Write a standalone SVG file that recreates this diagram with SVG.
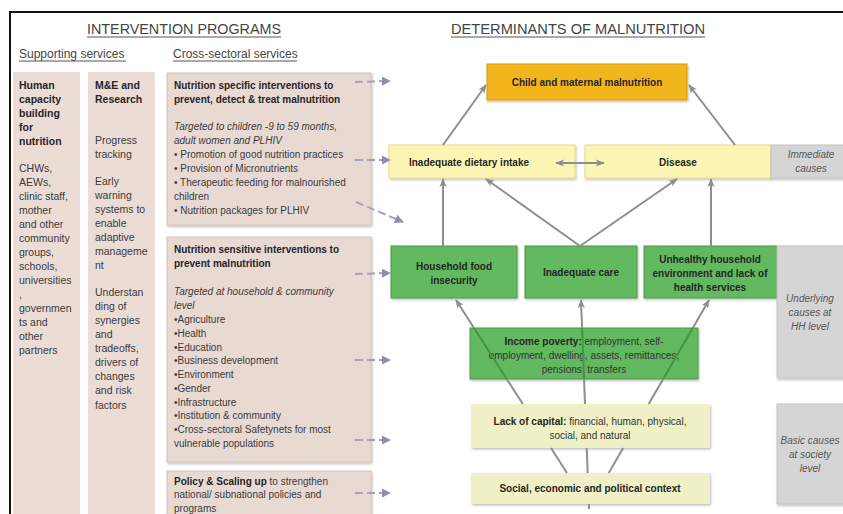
<svg xmlns="http://www.w3.org/2000/svg" width="843" height="514" viewBox="0 0 843 514">
  <defs>
    <style>
      text{font-family:"Liberation Sans",Arial,sans-serif;fill:#3b3b3b}
      .title{font-size:15px;fill:#444}
      .sub{font-size:12px;fill:#444}
      .rule{stroke:#555;stroke-width:1}
      .col{fill:#ecdcd6}
      .prog{fill:#e9d9d3;stroke:#cfc3be;stroke-width:1}
      .ct{font-size:10.5px}
      .bt{font-size:10px}
      .b{font-weight:bold;fill:#262626}
      .i{font-style:italic}
      .nt{font-size:10px;font-weight:bold;fill:#262626;text-anchor:middle}
      .nr{font-size:10px;fill:#333;text-anchor:middle}
      .gt{font-size:10px;font-style:italic;fill:#555;text-anchor:middle}
      .gold{fill:#f2b51c;stroke:#d59c12;stroke-width:1}
      .pale{fill:#fcf5b3;stroke:#e6dc8c;stroke-width:1}
      .green{fill:#62b95e;stroke:#4a9a46;stroke-width:1}
      .olive{fill:#eff0c6}
      .grey{fill:#d5d5d5;stroke:#c4c4c4;stroke-width:1}
      .link{stroke:#8e8e8e;stroke-width:2;fill:none}
      .dash{stroke:#a3a5b4;stroke-width:2;fill:none;stroke-dasharray:8 4}
    </style>
    <marker id="head" viewBox="0 0 10 10" refX="9" refY="5" markerWidth="4.5" markerHeight="4.5" orient="auto-start-reverse">
      <path d="M0,1 L10,5 L0,9 L2.5,5 z" fill="#8e8e8e"/>
    </marker>
    <marker id="dhead" viewBox="0 0 10 10" refX="9" refY="5" markerWidth="4.5" markerHeight="4.5" orient="auto">
      <path d="M0,0 L10,5 L0,10 z" fill="#8b90b2"/>
    </marker>
    <filter id="shadow" x="-10%" y="-10%" width="120%" height="130%">
      <feDropShadow dx="1" dy="1.5" stdDeviation="1" flood-color="#000" flood-opacity="0.25"/>
    </filter>
    <clipPath id="incomeClip"><rect x="470" y="328" width="228" height="51"/></clipPath>
  </defs>

  <rect width="843" height="514" fill="#fff"/>
  <!-- outer frame -->
  <path d="M10,514 V12 H843" fill="none" stroke="#111" stroke-width="2"/>

  <!-- headings -->
  <g id="headings">
    <text class="title" x="87" y="34" textLength="194" lengthAdjust="spacingAndGlyphs">INTERVENTION PROGRAMS</text>
    <line class="rule" x1="87" y1="37" x2="281" y2="37"/>
    <text class="title" x="451" y="34" textLength="254" lengthAdjust="spacingAndGlyphs">DETERMINANTS OF MALNUTRITION</text>
    <line class="rule" x1="451" y1="37" x2="705" y2="37"/>
    <text class="sub" x="19" y="58">Supporting services</text>
    <line class="rule" x1="19" y1="61" x2="126" y2="61"/>
    <text class="sub" x="173" y="58">Cross-sectoral services</text>
    <line class="rule" x1="173" y1="61" x2="297" y2="61"/>
  </g>

  <!-- supporting services columns -->
  <g id="human-capacity">
    <rect class="col" x="13" y="72" width="67" height="450"/>
    <text class="ct" x="19">
      <tspan class="b" x="19" y="89">Human</tspan>
      <tspan class="b" x="19" y="103">capacity</tspan>
      <tspan class="b" x="19" y="117">building</tspan>
      <tspan class="b" x="19" y="131">for</tspan>
      <tspan class="b" x="19" y="145">nutrition</tspan>
      <tspan x="19" y="172">CHWs,</tspan>
      <tspan x="19" y="186">AEWs,</tspan>
      <tspan x="19" y="200">clinic staff,</tspan>
      <tspan x="19" y="214">mother</tspan>
      <tspan x="19" y="228">and other</tspan>
      <tspan x="19" y="242">community</tspan>
      <tspan x="19" y="256">groups,</tspan>
      <tspan x="19" y="270">schools,</tspan>
      <tspan x="19" y="284">universities</tspan>
      <tspan x="19" y="298">,</tspan>
      <tspan x="19" y="312">governmen</tspan>
      <tspan x="19" y="326">ts and</tspan>
      <tspan x="19" y="340">other</tspan>
      <tspan x="19" y="354">partners</tspan>
    </text>
  </g>

  <g id="me-research">
    <rect class="col" x="88" y="72" width="67" height="450"/>
    <text class="ct" x="95">
      <tspan class="b" x="95" y="89">M&amp;E and</tspan>
      <tspan class="b" x="95" y="103">Research</tspan>
      <tspan x="95" y="144">Progress</tspan>
      <tspan x="95" y="158">tracking</tspan>
      <tspan x="95" y="185">Early</tspan>
      <tspan x="95" y="199">warning</tspan>
      <tspan x="95" y="213">systems to</tspan>
      <tspan x="95" y="227">enable</tspan>
      <tspan x="95" y="241">adaptive</tspan>
      <tspan x="95" y="255">manageme</tspan>
      <tspan x="95" y="269">nt</tspan>
      <tspan x="95" y="296">Understan</tspan>
      <tspan x="95" y="310">ding of</tspan>
      <tspan x="95" y="324">synergies</tspan>
      <tspan x="95" y="338">and</tspan>
      <tspan x="95" y="352">tradeoffs,</tspan>
      <tspan x="95" y="366">drivers of</tspan>
      <tspan x="95" y="380">changes</tspan>
      <tspan x="95" y="394">and risk</tspan>
      <tspan x="95" y="409">factors</tspan>
    </text>
  </g>

  <!-- cross-sectoral programmes -->
  <g id="nutrition-specific">
    <rect class="prog" x="167" y="73" width="204" height="152" filter="url(#shadow)"/>
    <text class="bt" x="174">
      <tspan class="b" x="174" y="89">Nutrition specific interventions to</tspan>
      <tspan class="b" x="174" y="103">prevent, detect &amp; treat malnutrition</tspan>
      <tspan class="i" x="174" y="130">Targeted to children -9 to 59 months,</tspan>
      <tspan class="i" x="174" y="144">adult women and PLHIV</tspan>
      <tspan x="174" y="158">• Promotion of good nutrition practices</tspan>
      <tspan x="174" y="172">• Provision of Micronutrients</tspan>
      <tspan x="174" y="186">• Therapeutic feeding for malnourished</tspan>
      <tspan x="174" y="200">children</tspan>
      <tspan x="174" y="214">• Nutrition packages for PLHIV</tspan>
    </text>
  </g>

  <g id="nutrition-sensitive">
    <rect class="prog" x="167" y="237" width="204" height="225" filter="url(#shadow)"/>
    <text class="bt" x="174">
      <tspan class="b" x="174" y="253">Nutrition sensitive interventions to</tspan>
      <tspan class="b" x="174" y="267">prevent malnutrition</tspan>
      <tspan class="i" x="174" y="295">Targeted at household &amp; community</tspan>
      <tspan class="i" x="174" y="309">level</tspan>
      <tspan x="174" y="323">•Agriculture</tspan>
      <tspan x="174" y="337">•Health</tspan>
      <tspan x="174" y="351">•Education</tspan>
      <tspan x="174" y="364">•Business development</tspan>
      <tspan x="174" y="378">•Environment</tspan>
      <tspan x="174" y="392">•Gender</tspan>
      <tspan x="174" y="406">•Infrastructure</tspan>
      <tspan x="174" y="419">•Institution &amp; community</tspan>
      <tspan x="174" y="433">•Cross-sectoral Safetynets for most</tspan>
      <tspan x="174" y="447">vulnerable populations</tspan>
    </text>
  </g>

  <g id="policy-scaling">
    <rect class="prog" x="167" y="471" width="204" height="50" filter="url(#shadow)"/>
    <text class="bt" x="174">
      <tspan x="174" y="485"><tspan class="b">Policy &amp; Scaling up</tspan> to strengthen</tspan>
      <tspan x="174" y="498">national/ subnational policies and</tspan>
      <tspan x="174" y="512">programs</tspan>
    </text>
  </g>

  <!-- determinants of malnutrition -->
  <g id="child-maternal-malnutrition">
    <rect class="gold" x="487" y="64" width="200" height="36" filter="url(#shadow)"/>
    <text class="nt" x="587" y="86">Child and maternal malnutrition</text>
  </g>
  <g id="inadequate-dietary-intake">
    <rect class="pale" x="389" y="145" width="186" height="33" filter="url(#shadow)"/>
    <text class="nt" x="469" y="166">Inadequate dietary intake</text>
  </g>
  <g id="disease">
    <rect class="pale" x="585" y="145" width="186" height="33" filter="url(#shadow)"/>
    <text class="nt" x="678" y="166">Disease</text>
  </g>
  <g id="immediate-causes">
    <rect class="grey" x="771" y="145" width="74" height="33" filter="url(#shadow)"/>
    <text class="gt" x="811" y="158">Immediate</text>
    <text class="gt" x="811" y="172">causes</text>
  </g>
  <g id="household-food-insecurity">
    <rect class="green" x="391" y="246" width="126" height="52" filter="url(#shadow)"/>
    <text class="nt" x="454" y="270">Household food</text>
    <text class="nt" x="454" y="284">insecurity</text>
  </g>
  <g id="inadequate-care">
    <rect class="green" x="525" y="246" width="112" height="52" filter="url(#shadow)"/>
    <text class="nt" x="581" y="276">Inadequate care</text>
  </g>
  <g id="unhealthy-environment">
    <rect class="green" x="644" y="246" width="133" height="52" filter="url(#shadow)"/>
    <text class="nt" x="710" y="263">Unhealthy household</text>
    <text class="nt" x="710" y="277">environment and lack of</text>
    <text class="nt" x="710" y="291">health services</text>
  </g>
  <g id="underlying-causes">
    <rect class="grey" x="777" y="246" width="68" height="132" filter="url(#shadow)"/>
    <text class="gt" x="810" y="302">Underlying</text>
    <text class="gt" x="810" y="316">causes at</text>
    <text class="gt" x="810" y="330">HH level</text>
  </g>
  <g id="income-poverty">
    <rect class="green" x="470" y="328" width="228" height="51" filter="url(#shadow)"/>
    <text class="nr" x="584" y="345"><tspan class="b">Income poverty:</tspan> employment, self-</text>
    <text class="nr" x="584" y="359">employment, dwelling, assets, remittances,</text>
    <text class="nr" x="584" y="373">pensions, transfers</text>
  </g>
  <g id="lack-of-capital">
    <rect class="olive" x="471" y="404" width="239" height="44" filter="url(#shadow)"/>
    <text class="nr" x="590" y="425"><tspan class="b">Lack of capital:</tspan> financial, human, physical,</text>
    <text class="nr" x="590" y="439">social, and natural</text>
  </g>
  <g id="political-context">
    <rect class="olive" x="471" y="473" width="239" height="31" filter="url(#shadow)"/>
    <text class="nt" x="590" y="492">Social, economic and political context</text>
  </g>
  <g id="basic-causes">
    <rect class="grey" x="777" y="404" width="68" height="100" filter="url(#shadow)"/>
    <text class="gt" x="810" y="444">Basic causes</text>
    <text class="gt" x="810" y="458">at society</text>
    <text class="gt" x="810" y="472">level</text>
  </g>

  <!-- connectors -->
  <g id="connectors">
    <!-- programme links (dashed) -->
    <line class="dash" x1="355" y1="82" x2="390" y2="81" marker-end="url(#dhead)"/>
    <line class="dash" x1="355" y1="160" x2="390" y2="160" marker-end="url(#dhead)"/>
    <line class="dash" x1="356" y1="202" x2="403" y2="222" marker-end="url(#dhead)"/>
    <line class="dash" x1="355" y1="274" x2="390" y2="273" marker-end="url(#dhead)"/>
    <line class="dash" x1="355" y1="360" x2="390" y2="360" marker-end="url(#dhead)"/>
    <line class="dash" x1="355" y1="440" x2="390" y2="440" marker-end="url(#dhead)"/>
    <line class="dash" x1="355" y1="493" x2="390" y2="493" marker-end="url(#dhead)"/>

    <!-- immediate causes to outcome -->
    <line class="link" x1="443" y1="145" x2="486" y2="85" marker-end="url(#head)"/>
    <line class="link" x1="735" y1="145" x2="689" y2="85" marker-end="url(#head)"/>
    <line class="link" x1="556" y1="163" x2="604" y2="163" marker-start="url(#head)" marker-end="url(#head)"/>

    <!-- underlying to immediate causes -->
    <line class="link" x1="443" y1="246" x2="443" y2="179" marker-end="url(#head)"/>
    <line class="link" x1="580" y1="246" x2="486" y2="179" marker-end="url(#head)"/>
    <line class="link" x1="580" y1="246" x2="677" y2="179" marker-end="url(#head)"/>
    <line class="link" x1="711" y1="246" x2="711" y2="179" marker-end="url(#head)"/>

    <!-- basic causes fanning up to the household level -->
    <g id="fan">
      <line class="link" x1="522.8" y1="404" x2="456" y2="300" marker-end="url(#head)"/>
      <line class="link" x1="585" y1="404" x2="581" y2="300" marker-end="url(#head)"/>
      <line class="link" x1="648.7" y1="404" x2="709" y2="300" marker-end="url(#head)"/>
    </g>
    <g clip-path="url(#incomeClip)" stroke="#3f9a3c" stroke-width="2">
      <line x1="522.8" y1="404" x2="456" y2="300"/>
      <line x1="585" y1="404" x2="581" y2="300"/>
      <line x1="648.7" y1="404" x2="709" y2="300"/>
    </g>
    <line class="link" x1="551" y1="448" x2="567" y2="473"/>
    <line class="link" x1="586.7" y1="448" x2="587.7" y2="473"/>
    <line class="link" x1="623.2" y1="448" x2="608.7" y2="473"/>
    <line class="link" x1="589" y1="504" x2="589" y2="509"/>
  </g>
</svg>
